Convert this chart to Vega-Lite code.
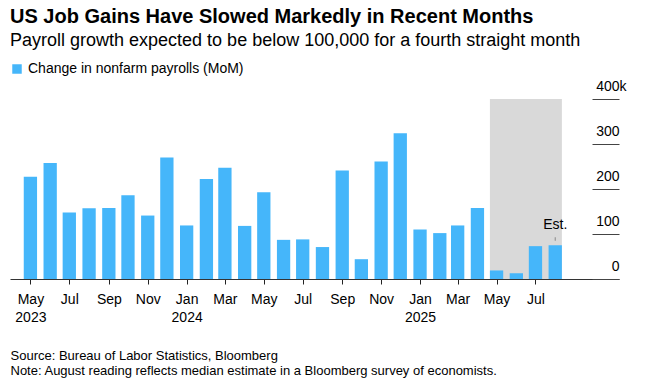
{
  "$schema": "https://vega.github.io/schema/vega-lite/v6.json",
  "width": 609,
  "height": 180,
  "autosize": {"type": "none"},
  "padding": {"left": 10, "top": 99, "right": 33, "bottom": 110},
  "background": "white",
  "config": {
    "font": "Liberation Sans",
    "view": {"stroke": null},
    "axis": {"labelFont": "Liberation Sans", "titleFont": "Liberation Sans"}
  },
  "title": {
    "text": "US Job Gains Have Slowed Markedly in Recent Months",
    "subtitle": "Payroll growth expected to be below 100,000 for a fourth straight month",
    "anchor": "start",
    "frame": "group",
    "fontSize": 20,
    "fontWeight": "bold",
    "color": "#000000",
    "subtitleFontSize": 18,
    "subtitleColor": "#000000",
    "subtitlePadding": 5,
    "offset": 12
  },
  "datasets": {
    "payrolls": [
      {"month": "2023-05-01", "value": 227},
      {"month": "2023-06-01", "value": 258},
      {"month": "2023-07-01", "value": 148},
      {"month": "2023-08-01", "value": 157},
      {"month": "2023-09-01", "value": 158},
      {"month": "2023-10-01", "value": 186},
      {"month": "2023-11-01", "value": 141},
      {"month": "2023-12-01", "value": 270},
      {"month": "2024-01-01", "value": 119},
      {"month": "2024-02-01", "value": 222},
      {"month": "2024-03-01", "value": 247},
      {"month": "2024-04-01", "value": 118},
      {"month": "2024-05-01", "value": 193},
      {"month": "2024-06-01", "value": 87},
      {"month": "2024-07-01", "value": 88},
      {"month": "2024-08-01", "value": 71},
      {"month": "2024-09-01", "value": 241},
      {"month": "2024-10-01", "value": 44},
      {"month": "2024-11-01", "value": 261},
      {"month": "2024-12-01", "value": 324},
      {"month": "2025-01-01", "value": 110},
      {"month": "2025-02-01", "value": 102},
      {"month": "2025-03-01", "value": 119},
      {"month": "2025-04-01", "value": 158},
      {"month": "2025-05-01", "value": 19},
      {"month": "2025-06-01", "value": 13},
      {"month": "2025-07-01", "value": 73},
      {"month": "2025-08-01", "value": 75}
    ],
    "shade": [
      {"start": "2025-05-01", "end": "2025-08-01", "top": 400, "bottom": 0}
    ],
    "estimate": [
      {"month": "2025-08-01", "value": 75, "label": "Est."}
    ]
  },
  "layer": [
    {
      "data": {"name": "shade"},
      "mark": {"type": "rect", "color": "#d9d9d9", "xOffset": -6.65, "x2Offset": 6.65},
      "encoding": {
        "x": {"field": "start", "type": "temporal"},
        "x2": {"field": "end"},
        "y": {"field": "top", "type": "quantitative"},
        "y2": {"field": "bottom"}
      }
    },
    {
      "data": {"name": "payrolls"},
      "mark": {"type": "bar", "width": 13.3},
      "encoding": {
        "x": {
          "field": "month",
          "type": "temporal",
          "scale": {
            "type": "utc",
            "padding": 0,
            "domain": [
              {"year": 2023, "month": 3, "date": 30, "utc": true},
              {"year": 2025, "month": 11, "date": 9, "utc": true}
            ]
          },
          "axis": {
            "values": [
              {"year": 2023, "month": 5, "date": 1, "utc": true},
              {"year": 2023, "month": 7, "date": 1, "utc": true},
              {"year": 2023, "month": 9, "date": 1, "utc": true},
              {"year": 2023, "month": 11, "date": 1, "utc": true},
              {"year": 2024, "month": 1, "date": 1, "utc": true},
              {"year": 2024, "month": 3, "date": 1, "utc": true},
              {"year": 2024, "month": 5, "date": 1, "utc": true},
              {"year": 2024, "month": 7, "date": 1, "utc": true},
              {"year": 2024, "month": 9, "date": 1, "utc": true},
              {"year": 2024, "month": 11, "date": 1, "utc": true},
              {"year": 2025, "month": 1, "date": 1, "utc": true},
              {"year": 2025, "month": 3, "date": 1, "utc": true},
              {"year": 2025, "month": 5, "date": 1, "utc": true},
              {"year": 2025, "month": 7, "date": 1, "utc": true}
            ],
            "labelExpr": "(utcmonth(datum.value) == 0 || (utcyear(datum.value) == 2023 && utcmonth(datum.value) == 4)) ? [utcFormat(datum.value, '%b'), utcFormat(datum.value, '%Y')] : utcFormat(datum.value, '%b')",
            "labelFontSize": 14,
            "labelColor": "#000000",
            "labelPadding": 8,
            "labelLineHeight": 18,
            "labelFlush": false,
            "labelOverlap": false,
            "tickSize": 5,
            "tickColor": "#222222",
            "domainColor": "#333333",
            "grid": false,
            "title": ["Source: Bureau of Labor Statistics, Bloomberg", "Note: August reading reflects median estimate in a Bloomberg survey of economists."],
            "titleFontSize": 13,
            "titleFontWeight": "normal",
            "titleColor": "#000000",
            "titleAnchor": "start",
            "titleAlign": "left",
            "titleBaseline": "alphabetic",
            "titleLineHeight": 15,
            "titleX": 0,
            "titleY": 80
          }
        },
        "y": {
          "field": "value",
          "type": "quantitative",
          "scale": {"domain": [0, 400]},
          "axis": {
            "orient": "right",
            "values": [0, 100, 200, 300, 400],
            "labelExpr": "datum.value == 400 ? '400k' : datum.label",
            "domain": false,
            "grid": false,
            "tickSize": -27,
            "tickColor": "#444444",
            "labelAlign": "right",
            "labelBaseline": "alphabetic",
            "labelPadding": {"condition": {"test": "datum.value == 400", "value": 34}, "value": 27},
            "labelOffset": -9,
            "labelFontSize": 14,
            "labelColor": "#000000",
            "title": null
          }
        },
        "color": {
          "datum": "Change in nonfarm payrolls (MoM)",
          "type": "nominal",
          "scale": {"range": ["#45b6fa"]},
          "legend": {
            "orient": "none",
            "legendX": 0,
            "legendY": -37,
            "title": null,
            "symbolType": "square",
            "symbolSize": 90,
            "symbolStrokeWidth": 0,
            "labelFontSize": 14,
            "labelLimit": 0,
            "labelColor": "#000000",
            "labelFont": "Liberation Sans"
          }
        }
      }
    },
    {
      "data": {"name": "estimate"},
      "mark": {"type": "rule", "color": "#888888", "yOffset": -8, "y2Offset": -4.5, "strokeWidth": 1},
      "encoding": {
        "x": {"field": "month", "type": "temporal"},
        "y": {"field": "value", "type": "quantitative"},
        "y2": {"field": "value"}
      }
    },
    {
      "data": {"name": "estimate"},
      "mark": {"type": "text", "dy": -16, "baseline": "alphabetic", "align": "center", "fontSize": 14, "color": "#000000", "font": "Liberation Sans"},
      "encoding": {
        "x": {"field": "month", "type": "temporal"},
        "y": {"field": "value", "type": "quantitative"},
        "text": {"field": "label"}
      }
    }
  ]
}
